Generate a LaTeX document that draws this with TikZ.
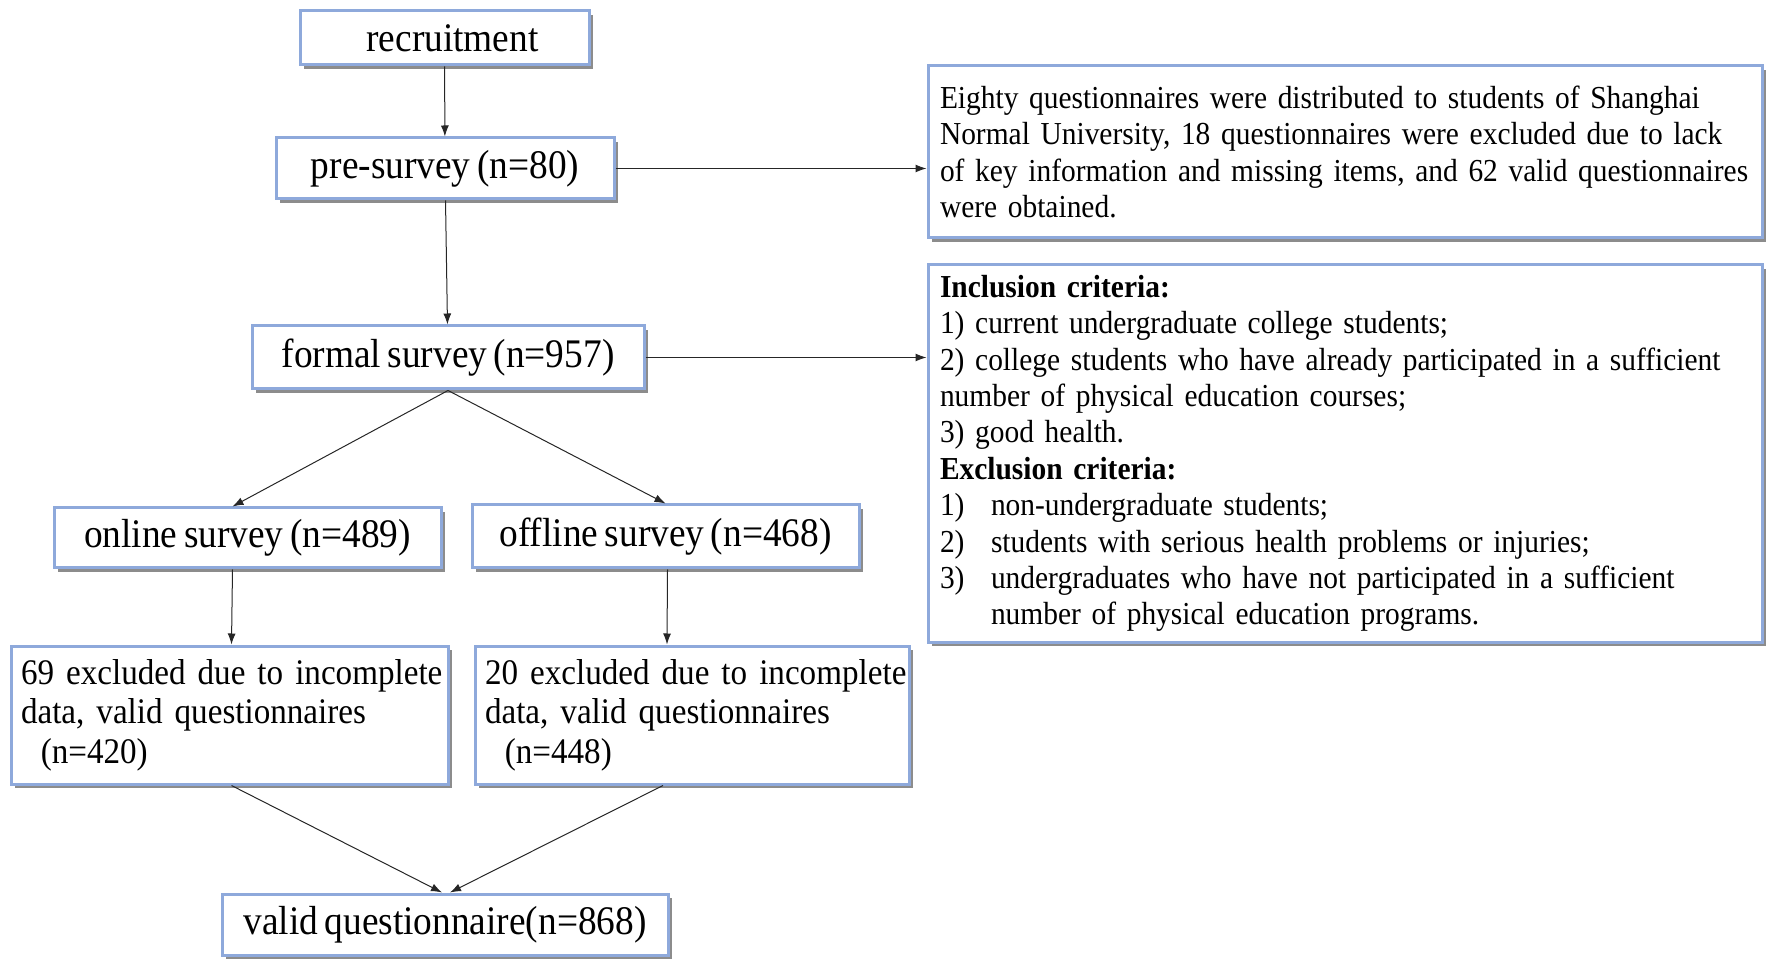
\documentclass[tikz,border=0pt]{standalone}
\usepackage{fontspec}
\setmainfont[FakeStretch=0.92,WordSpace=0.7]{Liberation Serif}
\usetikzlibrary{arrows.meta,shadows}
\definecolor{boxblue}{HTML}{8EA9DB}

\begin{document}
\begin{tikzpicture}[x=0.5pt,y=-0.5pt,
   box/.style={draw=boxblue,line width=1.5pt,fill=white,inner sep=0pt,
     drop shadow={shadow xshift=2pt,shadow yshift=-2pt,fill=black!45,opacity=1}},
   big/.style={box,font=\fontsize{20.3}{24}\selectfont},
   side/.style={box,font=\fontsize{16}{18.2}\selectfont,align=left,
     text width=405pt,inner xsep=6pt},
   excl/.style={box,font=\fontsize{18}{19.8}\selectfont,align=left,
     text width=208.5pt,inner xsep=5pt,minimum height=69pt},
   arr/.style={-{Latex[length=5.5pt,width=4pt]},line width=0.5pt,black!85}]
   \useasboundingbox (0,0) rectangle (1772,967);
   % left column
   \node[big,minimum width=144.5pt,minimum height=27pt] (recruit) at (444.5,38) {\hspace*{8pt}recruitment};
   \node[big,minimum width=169pt,minimum height=30.5pt] (pre) at (445,168.5) {pre-survey (n=80)};
   \node[big,minimum width=196pt,minimum height=31.5pt] (formal) at (448,357.5) {formal survey (n=957)};
   \node[big,minimum width=193.5pt,minimum height=30pt] (online) at (247.5,538) {online survey (n=489)};
   \node[big,minimum width=193.5pt,minimum height=31.5pt] (offline) at (665.5,536.5) {offline survey (n=468)};
   \node[excl] (exclon) at (229.5,715) {\mbox{69 excluded due to incomplete}\\data, valid questionnaires\\\hspace*{0.55em}(n=420)};
   \node[excl,text width=207pt] (excloff) at (692,715) {\mbox{20 excluded due to incomplete}\\data, valid questionnaires\\\hspace*{0.55em}(n=448)};
   \node[big,minimum width=223pt,minimum height=30.5pt] (valid) at (445,924.5) {valid questionnaire(n=868)};
   % right column
   \node[side,minimum height=86pt] (info) at (1345,152) {\mbox{Eighty questionnaires were distributed to students of Shanghai}\\
     \mbox{Normal University, 18 questionnaires were excluded due to lack}\\
     \mbox{of key information and missing items, and 62 valid questionnaires}\\
     were obtained.};
   \node[side,minimum height=188.5pt] (crit) at (1345,453.5) {\textbf{Inclusion criteria:}\\
     1) current undergraduate college students;\\
     \mbox{2) college students who have already participated in a sufficient}\\
     number of physical education courses;\\
     3) good health.\\
     \textbf{Exclusion criteria:}\\
     \makebox[25.5pt][l]{1)}non-undergraduate students;\\
     \makebox[25.5pt][l]{2)}students with serious health problems or injuries;\\
     \makebox[25.5pt][l]{3)}\mbox{undergraduates who have not participated in a sufficient}\\
     \hspace*{25.5pt}number of physical education programs.};
   % connectors
   \draw[arr] (recruit) -- (pre);
   \draw[arr] (pre) -- (formal);
   \draw[arr] (pre.east) -- (pre.east -| info.west);
   \draw[arr] (formal.east) -- (formal.east -| crit.west);
   \draw[arr] (formal.south) -- ([xshift=-7.5pt]online.north);
   \draw[arr] (formal.south) -- (offline.north);
   \draw[arr] ([xshift=-7.5pt]online.south) -- ([xshift=1pt]exclon.north);
   \draw[arr] ([xshift=1pt]offline.south) -- ([xshift=-12.5pt]excloff.north);
   \draw[arr] ([xshift=1pt]exclon.south) -- ([xshift=-1.5pt]valid.north);
   \draw[arr] ([xshift=-14.5pt]excloff.south) -- ([xshift=2.5pt]valid.north);
\end{tikzpicture}
\end{document}
